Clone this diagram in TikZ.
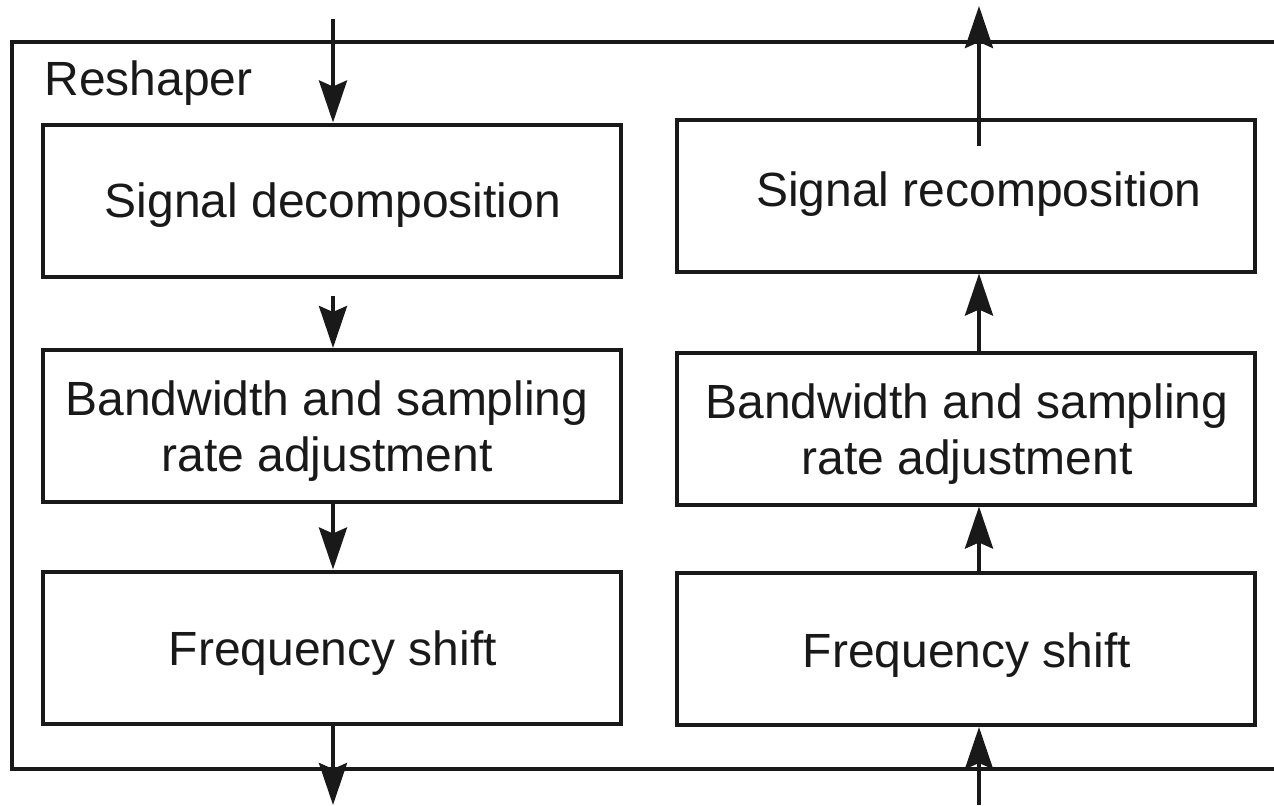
\documentclass[tikz,border=0pt]{standalone}
\usepackage{fontspec}
\setmainfont{Liberation Sans}
\usetikzlibrary{arrows.meta}
\tikzset{
  blk/.style={draw=black!90, line width=2pt, minimum width=289pt, minimum height=76pt, inner sep=0pt},
  txt/.style={inner sep=0pt, font=\fontsize{24}{28}\selectfont, align=center, text=black!90},
  arr/.style={draw=black!90, line width=2pt, -{Stealth[length=21pt,width=14pt,inset=3pt]}},
  frame/.style={draw=black!90, line width=2pt}
}
\begin{document}
\begin{tikzpicture}[x=0.5pt,y=-0.5pt]
\useasboundingbox (0,0) rectangle (1274,805);
% outer frame
\coordinate (ftr) at (1300,42);
\coordinate (fbr) at (1300,769);
\draw[frame] (ftr) -- (12,42) -- (12,769) -- (fbr);
\node[txt, anchor=base west] (resh) at (44,95) {Reshaper};
% left column
\node[blk] (L1) at (332,200.5) {};
\node[blk] (L2) at (332,426) {};
\node[blk] (L3) at (332,647.5) {};
\node[txt] (L1t) at (333,205) {Signal decomposition};
\node[txt] (L2t) at (327,431) {Bandwidth and sampling\\rate adjustment};
\node[txt] (L3t) at (333,653) {Frequency shift};
% right column
\node[blk] (R1) at (966,195.5) {};
\node[blk] (R2) at (966,428.5) {};
\node[blk] (R3) at (966,649) {};
\node[txt] (R1t) at (979,194) {Signal recomposition};
\node[txt] (R2t) at (967,434) {Bandwidth and sampling\\rate adjustment};
\node[txt] (R3t) at (967,655) {Frequency shift};
% left arrows
\coordinate (lin) at (333,19);
\coordinate (lout) at (333,805);
\draw[arr] (lin) -- (lin |- L1.north);
\draw[arr] ([yshift=-8.5pt]L1.south -| lin) -- (lin |- L2.north);
\draw[arr] (L2.south -| lin) -- (lin |- L3.north);
\draw[arr] (L3.south -| lin) -- (lout);
% right arrows
\coordinate (rin) at (979,805);
\coordinate (rout) at (979,6);
\draw[arr] (rin) -- (rin |- R3.south);
\draw[arr] (R3.north -| rin) -- (rin |- R2.south);
\draw[arr] (R2.north -| rin) -- (rin |- R1.south);
\draw[arr] ([yshift=-14pt]R1.north -| rin) -- (rout);
\end{tikzpicture}
\end{document}
